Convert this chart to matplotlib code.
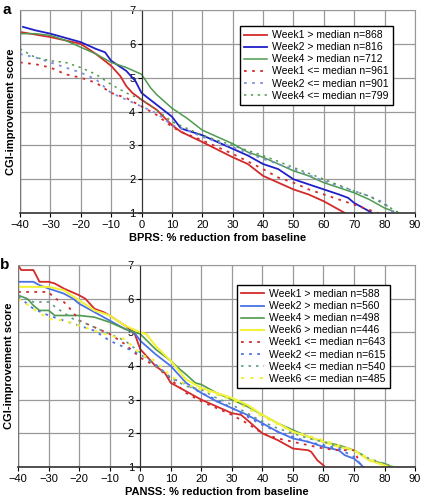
import matplotlib
matplotlib.use('Agg')
import matplotlib.pyplot as plt

plt.rcParams['font.family'] = ['Liberation Sans', 'DejaVu Sans']

# ---- panel a: BPRS ----
a_w1_hi_x = [-40, -30, -25, -20, -15, -10, -7, -5, -3, 0, 5, 10, 13, 20, 30, 35, 40, 45, 50, 55, 60, 63, 67]
a_w1_hi_y = [6.35, 6.2, 6.1, 6.0, 5.7, 5.35, 5.05, 4.75, 4.55, 4.35, 4.05, 3.6, 3.4, 3.1, 2.65, 2.45, 2.1, 1.9, 1.7, 1.55, 1.35, 1.2, 1.0]
a_w2_hi_x = [-39, -35, -30, -20, -15, -12, -10, -5, -2, 0, 5, 10, 13, 20, 25, 30, 35, 40, 45, 50, 55, 60, 65, 68, 70, 73, 76]
a_w2_hi_y = [6.5, 6.4, 6.3, 6.05, 5.85, 5.75, 5.5, 5.2, 4.9, 4.55, 4.2, 3.85, 3.5, 3.3, 3.1, 2.9, 2.7, 2.45, 2.3, 2.0, 1.85, 1.7, 1.55, 1.45, 1.3, 1.15, 1.0]
a_w4_hi_x = [-40, -35, -30, -25, -20, -15, -10, -5, 0, 3, 5, 10, 15, 20, 25, 30, 35, 40, 45, 50, 55, 60, 65, 70, 75, 80, 83]
a_w4_hi_y = [6.3, 6.3, 6.25, 6.1, 5.9, 5.7, 5.45, 5.3, 5.1, 4.7, 4.5, 4.1, 3.8, 3.45, 3.25, 3.05, 2.8, 2.65, 2.45, 2.25, 2.1, 1.9, 1.75, 1.6, 1.4, 1.15, 1.05]
a_w1_lo_x = [-40, -35, -30, -25, -20, -15, -10, -5, 0, 5, 10, 13, 20, 30, 40, 45, 50, 55, 60, 70, 78]
a_w1_lo_y = [5.45, 5.4, 5.3, 5.1, 5.0, 4.85, 4.55, 4.4, 4.15, 3.9, 3.55, 3.4, 3.15, 2.75, 2.3, 2.05, 1.9, 1.7, 1.55, 1.25, 1.0]
a_w2_lo_x = [-40, -35, -30, -25, -20, -15, -10, -5, 0, 5, 10, 15, 20, 25, 30, 40, 50, 60, 70, 75, 80, 83]
a_w2_lo_y = [5.7, 5.6, 5.45, 5.3, 5.15, 4.95, 4.55, 4.35, 4.15, 3.95, 3.6, 3.45, 3.25, 3.1, 2.95, 2.6, 2.3, 1.95, 1.65, 1.5, 1.3, 1.0]
a_w4_lo_x = [-40, -35, -30, -25, -20, -15, -10, -5, 0, 5, 10, 15, 20, 30, 40, 50, 60, 70, 75, 80, 85]
a_w4_lo_y = [5.85, 5.6, 5.5, 5.45, 5.3, 5.1, 4.8, 4.55, 4.35, 4.05, 3.7, 3.5, 3.3, 3.0, 2.7, 2.35, 2.0, 1.65, 1.5, 1.25, 1.0]
a_labels = ['Week1 > median n=868', 'Week2 > median n=816', 'Week4 > median n=712',
            'Week1 <= median n=961', 'Week2 <= median n=901', 'Week4 <= median n=799']

# ---- panel b: PANSS ----
b_w1_hi_x = [-40, -39, -35, -33, -30, -28, -25, -20, -18, -15, -12, -10, -5, -2, 0, 3, 5, 8, 10, 15, 20, 25, 30, 33, 35, 40, 45, 50, 55, 56, 58, 60, 60.5]
b_w1_hi_y = [7.0, 6.85, 6.85, 6.5, 6.5, 6.45, 6.3, 6.1, 6.0, 5.7, 5.6, 5.5, 5.2, 5.0, 4.5, 4.2, 4.0, 3.8, 3.5, 3.25, 3.0, 2.8, 2.6, 2.55, 2.4, 2.0, 1.8, 1.55, 1.5, 1.45, 1.2, 1.05, 1.0]
b_w2_hi_x = [-40, -35, -33, -30, -25, -22, -20, -15, -10, -5, -2, 0, 5, 10, 13, 15, 20, 25, 30, 35, 40, 45, 50, 55, 60, 65, 67, 70, 72, 73]
b_w2_hi_y = [6.5, 6.5, 6.4, 6.3, 6.15, 6.0, 5.85, 5.6, 5.35, 5.1, 5.0, 4.75, 4.35, 4.0, 3.7, 3.5, 3.2, 2.95, 2.75, 2.55, 2.3, 2.05, 1.85, 1.75, 1.6, 1.5, 1.35, 1.25, 1.1, 1.0]
b_w4_hi_x = [-40, -37, -35, -33, -30, -28, -20, -15, -10, -5, 0, 5, 10, 13, 15, 18, 20, 25, 30, 35, 40, 45, 50, 55, 60, 65, 70, 72, 75, 80, 83]
b_w4_hi_y = [6.1, 6.0, 5.8, 5.65, 5.65, 5.5, 5.5, 5.45, 5.3, 5.1, 4.95, 4.5, 4.15, 3.9, 3.75, 3.5, 3.45, 3.2, 3.0, 2.8, 2.55, 2.3, 2.1, 1.9, 1.75, 1.65, 1.5, 1.4, 1.2, 1.1, 1.0]
b_w6_hi_x = [-40, -30, -25, -20, -15, -10, -5, 0, 2, 5, 10, 15, 20, 25, 30, 35, 40, 45, 50, 55, 60, 65, 70, 75, 80, 83]
b_w6_hi_y = [6.35, 6.35, 6.25, 5.95, 5.65, 5.5, 5.2, 5.0, 4.95, 4.6, 4.15, 3.6, 3.35, 3.2, 3.05, 2.85, 2.55, 2.3, 2.05, 1.9, 1.75, 1.6, 1.5, 1.2, 1.05, 1.0]
b_w1_lo_x = [-40, -30, -28, -25, -22, -20, -15, -10, -5, 0, 5, 10, 15, 20, 25, 30, 35, 40, 45, 50, 55, 60, 65, 70, 72]
b_w1_lo_y = [6.2, 6.2, 6.0, 5.9, 5.6, 5.35, 5.15, 4.95, 4.65, 4.25, 4.0, 3.6, 3.2, 2.95, 2.75, 2.55, 2.3, 2.0, 1.85, 1.75, 1.65, 1.55, 1.5, 1.5, 1.1]
b_w2_lo_x = [-40, -37, -35, -30, -25, -20, -15, -10, -5, 0, 5, 10, 15, 20, 25, 30, 35, 40, 45, 50, 55, 60, 65, 70, 73]
b_w2_lo_y = [6.05, 5.85, 5.7, 5.5, 5.35, 5.2, 5.05, 4.75, 4.55, 4.35, 4.05, 3.65, 3.45, 3.2, 3.0, 2.75, 2.5, 2.25, 2.05, 1.9, 1.75, 1.65, 1.55, 1.3, 1.0]
b_w4_lo_x = [-40, -35, -30, -27, -22, -20, -15, -10, -5, 0, 5, 10, 15, 20, 25, 30, 35, 40, 45, 50, 55, 60, 65, 70, 75, 80, 82]
b_w4_lo_y = [6.1, 5.9, 5.9, 5.7, 5.4, 5.35, 5.15, 4.95, 4.75, 4.4, 4.0, 3.65, 3.4, 3.3, 3.05, 2.85, 2.6, 2.35, 2.15, 2.0, 1.85, 1.75, 1.6, 1.5, 1.25, 1.1, 1.0]
b_w6_lo_x = [-40, -35, -30, -25, -20, -15, -10, -5, 0, 5, 10, 15, 20, 30, 40, 50, 60, 70, 75, 80]
b_w6_lo_y = [6.0, 5.7, 5.4, 5.35, 5.2, 5.05, 4.9, 4.8, 4.35, 4.15, 3.7, 3.45, 3.3, 3.0, 2.5, 2.05, 1.8, 1.5, 1.25, 1.05]
b_labels = ['Week1 > median n=588', 'Week2 > median n=560', 'Week4 > median n=498', 'Week6 > median n=446',
            'Week1 <= median n=643', 'Week2 <= median n=615', 'Week4 <= median n=540', 'Week6 <= median n=485']

xticks = list(range(-40, 91, 10))
yticks = [1, 2, 3, 4, 5, 6, 7]

RED = '#d42a2a'
GREEN = '#4f9a4f'
YELLOW = '#f2f23a'
DOT = (0, (1.5, 3))

fig = plt.figure(figsize=(4.21, 4.99), dpi=100)


def setup(ax, xlabel, letter):
    ax.set_xlim(-40, 90)
    ax.set_ylim(1, 7)
    ax.set_xticks(xticks)
    ax.set_yticks(yticks)
    ax.grid(True, color='#999999', lw=0.9)
    ax.set_axisbelow(True)
    for s in ['top', 'right']:
        ax.spines[s].set_color('#999999')
    ax.spines['left'].set_position(('data', 0))
    ax.spines['left'].set_color('#333333')
    ax.spines['bottom'].set_color('#333333')
    ax.spines['bottom'].set_linewidth(1.2)
    ax.tick_params(labelsize=8, length=3, pad=1.5)
    ax.tick_params(axis='x', pad=2)
    ax.set_xlabel(xlabel, fontsize=8, fontweight='bold', labelpad=2)
    ax.text(-0.045, 1.0, letter, transform=ax.transAxes, fontsize=11,
            fontweight='bold', va='center', ha='left')
    ax.text(-0.022, 0.5, 'CGI-improvement score', transform=ax.transAxes, fontsize=8,
            fontweight='bold', rotation=90, va='center', ha='center')
    # extra frame line on the left at -40
    ax.axvline(-40, color='#777777', lw=1.0)


def add_legend(ax, labels, anchor):
    leg = ax.legend(labels, loc='upper right', bbox_to_anchor=anchor, fontsize=7.5,
                    frameon=True, fancybox=False, framealpha=1, edgecolor='black',
                    handlelength=2.2, borderpad=0.4, labelspacing=0.2, handletextpad=0.5,
                    borderaxespad=0)
    leg.get_frame().set_linewidth(1.0)


ax1 = fig.add_axes([0.0475, 0.573, 0.938, 0.407])
ax1.plot(a_w1_hi_x, a_w1_hi_y, color=RED, lw=1.3)
ax1.plot(a_w2_hi_x, a_w2_hi_y, color='#2020c8', lw=1.3)
ax1.plot(a_w4_hi_x, a_w4_hi_y, color=GREEN, lw=1.1)
ax1.plot(a_w1_lo_x, a_w1_lo_y, color=RED, lw=1.3, ls=DOT)
ax1.plot(a_w2_lo_x, a_w2_lo_y, color='#7a8fe0', lw=1.3, ls=DOT)
ax1.plot(a_w4_lo_x, a_w4_lo_y, color=GREEN, lw=1.1, ls=DOT)
setup(ax1, 'BPRS: % reduction from baseline', 'a')
add_legend(ax1, a_labels, (0.944, 0.921))

ax2 = fig.add_axes([0.043, 0.064, 0.943, 0.405])
ax2.plot(b_w1_hi_x, b_w1_hi_y, color=RED, lw=1.3)
ax2.plot(b_w2_hi_x, b_w2_hi_y, color='#4a72e6', lw=1.3)
ax2.plot(b_w4_hi_x, b_w4_hi_y, color=GREEN, lw=1.2)
ax2.plot(b_w6_hi_x, b_w6_hi_y, color=YELLOW, lw=1.5)
ax2.plot(b_w1_lo_x, b_w1_lo_y, color=RED, lw=1.3, ls=DOT)
ax2.plot(b_w2_lo_x, b_w2_lo_y, color='#4a72e6', lw=1.3, ls=DOT)
ax2.plot(b_w4_lo_x, b_w4_lo_y, color='#5f9a86', lw=1.2, ls=DOT)
ax2.plot(b_w6_lo_x, b_w6_lo_y, color=YELLOW, lw=1.5, ls=DOT)
setup(ax2, 'PANSS: % reduction from baseline', 'b')
add_legend(ax2, b_labels, (0.937, 0.901))

fig.savefig('out.png', dpi=100)
